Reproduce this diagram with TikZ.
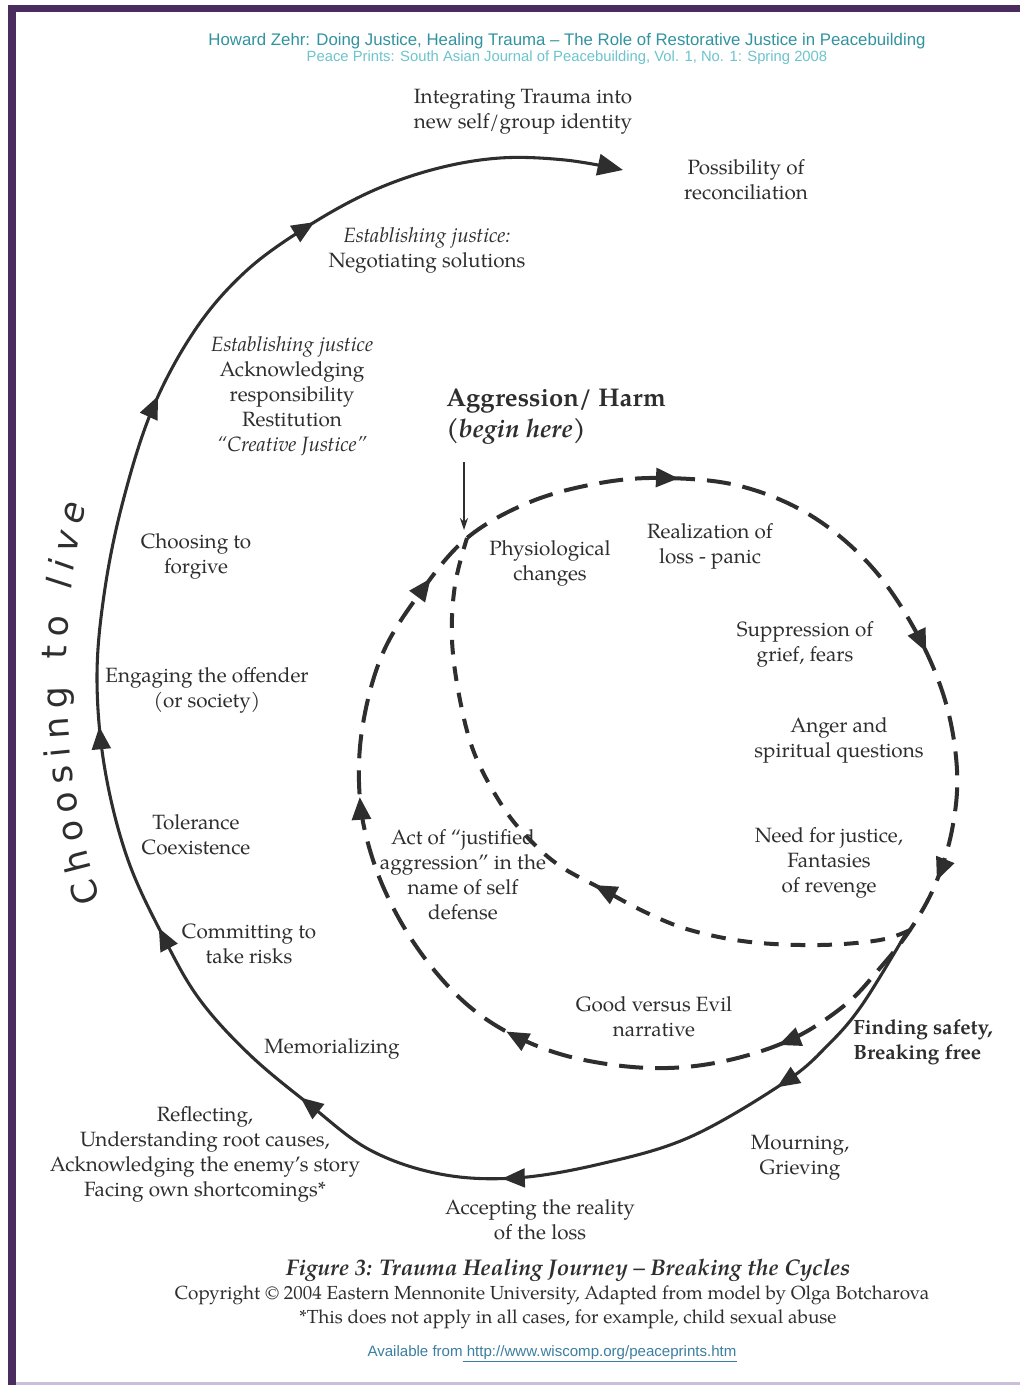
\documentclass[tikz,border=0pt]{standalone}
\usepackage{fontspec}
\setmainfont{texgyrepagella}[Extension=.otf,UprightFont=*-regular,BoldFont=*-bold,ItalicFont=*-italic,BoldItalicFont=*-bolditalic]
\newfontfamily\headfont{Liberation Sans}
\newfontfamily\livefont{DejaVu Sans}
\usetikzlibrary{arrows.meta,decorations.markings,decorations.text}
\definecolor{frame}{HTML}{4A2C5E}
\definecolor{frameline}{HTML}{CBBEDA}
\definecolor{ink}{HTML}{2E2E2E}
\definecolor{headteal}{HTML}{3293A0}
\definecolor{headcyan}{HTML}{6CC4CC}
\definecolor{linkblue}{HTML}{3C7FA0}
\newcommand{\bodysize}{\fontsize{15.5pt}{18.75pt}\selectfont}
\newcommand{\notesize}{\fontsize{14.2pt}{17pt}\selectfont}

\begin{document}
\begin{tikzpicture}[x=0.75pt,y=-0.75pt,
  every node/.style={inner sep=0pt,text=ink},
  lbl/.style={align=center,font=\bodysize},
  bigtip/.tip={Triangle[length=17pt,width=14pt]},
  tipat/.style={postaction={decorate,decoration={markings,mark=at position #1 with {\arrow{bigtip}}}}},
  spiral/.style={draw=ink,line width=2.3pt,line cap=round},
  loopline/.style={draw=ink,line width=3pt,dash pattern=on 18pt off 9pt},
  crescent/.style={draw=ink,line width=3pt,dash pattern=on 11pt off 9pt}]
\useasboundingbox (0,0) rectangle (1020,1385);
\fill[white] (0,0) rectangle (1020,1385);
\fill[frame] (8,5) rectangle (1020,12);
\fill[frame] (8,5) rectangle (16,1385);
\fill[frameline] (16,1382) rectangle (1020,1385);

\node[font=\headfont\fontsize{12.6pt}{14pt}\selectfont,text=headteal] (head) at (567,41) {Howard Zehr: Doing Justice, Healing Trauma – The Role of Restorative Justice in Peacebuilding};
\node[font=\headfont\fontsize{11.1pt}{13pt}\selectfont,text=headcyan] (journal) at (567,58) {Peace Prints: South Asian Journal of Peacebuilding, Vol. 1, No. 1: Spring 2008};

\coordinate (J) at (467,538);
\coordinate (hintTop) at (464,462);
\coordinate (hintEnd) at (464,530);

\draw[spiral,-{Triangle[length=19pt,width=16pt]},tipat/.list={0.098,0.241,0.350,0.459,0.562,0.727,0.843}]
  plot[smooth,tension=0.6] coordinates {(905,935) (862,1005) (828,1045) (785,1082) (690,1137) (600,1164) (515,1178) (440,1174) (370,1150) (310,1105) (250,1055) (200,1000) (165,940) (128,860) (105,770) (97,680) (104,595) (122,505) (152,410) (195,330) (245,272) (305,228) (370,192) (435,169) (500,158) (565,160) (623,170)};

\draw[loopline,tipat/.list={0.081,0.252,0.378,0.503,0.653,0.806,0.932}]
  plot[smooth cycle,tension=0.6] coordinates {(J) (530,502) (600,483) (665,478) (740,486) (810,515) (870,565) (915,630) (945,700) (957,770) (952,830) (935,885) (910,930) (880,968) (845,1005) (790,1040) (720,1062) (650,1068) (575,1058) (517,1037) (470,1007) (430,965) (397,915) (373,860) (360,800) (362,730) (382,655) (420,593)};

\draw[crescent,tipat=0.45]
  plot[smooth,tension=0.6] coordinates {(910,930) (880,940) (820,945) (750,942) (690,930) (645,912) (600,888) (560,866) (530,840) (503,807) (475,755) (460,700) (452,640) (455,585) (J)};

\draw[draw=ink,line width=1pt,-{Stealth[length=9pt,width=6pt]}] (hintTop) -- (hintEnd);

\path[decorate,decoration={text along path,text color=ink,text align={fit to path},
  text={|\livefont\fontsize{26pt}{28pt}\selectfont|Choosing to |\livefont\itshape\fontsize{26pt}{28pt}\selectfont|live}}]
  (101,900) .. controls (58,770) and (58,620) .. (86,505);

\node[lbl] (integ) at (523,112) {Integrating Trauma into\\new self/group identity};
\node[lbl] (recon) at (746,180) {Possibility of\\reconciliation};
\node[lbl] (negot) at (427,250) {\textit{Establishing justice:}\\Negotiating solutions};
\node[lbl] (restit) at (292,396) {\textit{Establishing justice}\\Acknowledging\\responsibility\\Restitution\\\textit{``Creative Justice''}};
\node[align=left,anchor=west,font=\bfseries\fontsize{19.2pt}{23pt}\selectfont] (aggr) at (446,417) {Aggression/ Harm\\\textit{(begin here)}};
\node[lbl] (forgive) at (196,556) {Choosing to\\forgive};
\node[lbl] (engage) at (207,690) {Engaging the offender\\(or society)};
\node[lbl] (toler) at (196,835) {Tolerance\\Coexistence};
\node[lbl] (commit) at (249,944) {Committing to\\take risks};
\node[lbl] (memor) at (332,1049) {Memorializing};
\node[lbl] (reflect) at (205,1154) {Reflecting,\\Understanding root causes,\\Acknowledging the enemy's story\\Facing own shortcomings*};
\node[lbl] (accept) at (540,1220) {Accepting the reality\\of the loss};
\node[lbl] (mourn) at (800,1158) {Mourning,\\Grieving};
\node[lbl,align=left,anchor=west,font=\bfseries\bodysize] (safety) at (853,1042) {Finding safety,\\Breaking free};
\node[lbl] (good) at (654,1017) {Good versus Evil\\narrative};
\node[lbl] (act) at (463,875) {Act of ``justified\\aggression'' in the\\name of self\\defense};
\node[lbl] (need) at (829,863) {Need for justice,\\Fantasies\\of revenge};
\node[lbl] (anger) at (839,740) {Anger and\\spiritual questions};
\node[lbl] (suppr) at (805,644) {Suppression of\\grief, fears};
\node[lbl] (realiz) at (710,546) {Realization of\\loss - panic};
\node[lbl] (physio) at (550,563) {Physiological\\changes};

\node[font=\bfseries\itshape\fontsize{17pt}{20pt}\selectfont] (fig) at (568,1270) {Figure 3: Trauma Healing Journey -- Breaking the Cycles};
\node[font=\notesize] (copy) at (552,1295) {Copyright \textcopyright\ 2004 Eastern Mennonite University, Adapted from model by Olga Botcharova};
\node[font=\notesize] (note) at (568,1319) {*This does not apply in all cases, for example, child sexual abuse};
\node[font=\headfont\fontsize{11.3pt}{13pt}\selectfont,text=linkblue] (avail) at (552,1354) {Available from\underline{ http://www.wiscomp.org/peaceprints.htm}};
\end{tikzpicture}
\end{document}
